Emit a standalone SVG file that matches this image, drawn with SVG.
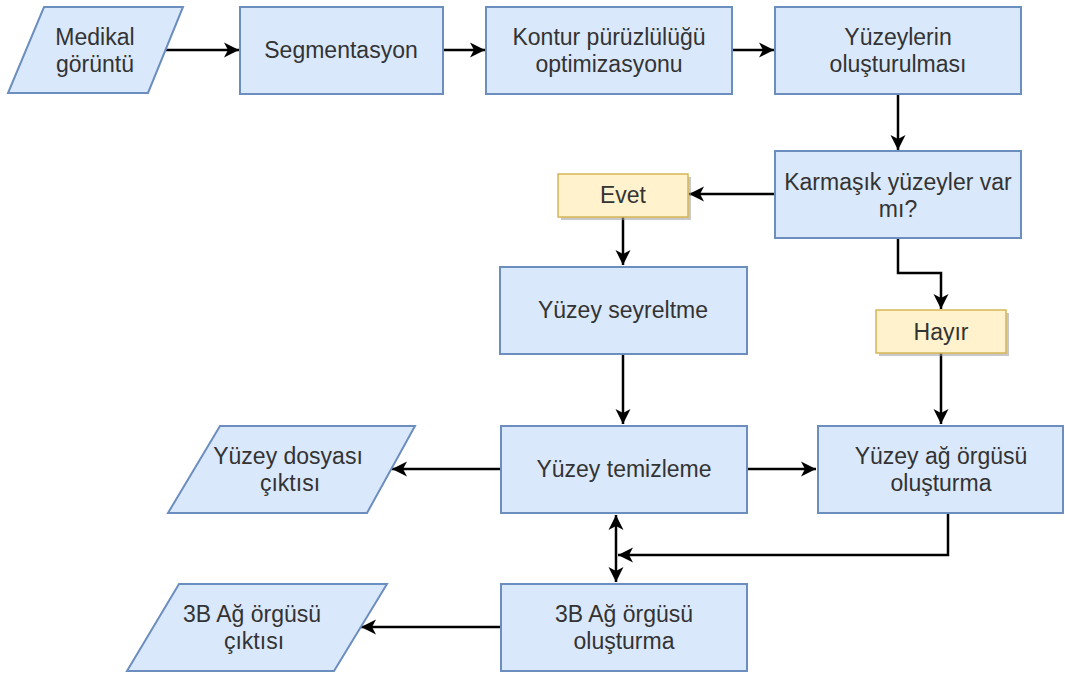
<svg xmlns="http://www.w3.org/2000/svg" width="1065" height="673" viewBox="0 0 1065 673">
<defs>
<style>
.b{fill:#dae8fc;stroke:#6c8ebf;stroke-width:2}
.y{fill:#fff2cc;stroke:#d6b656;stroke-width:1.5}
.sh{fill:#9a9a9a;opacity:0.55}
.t{font-family:"Liberation Sans",Arial,sans-serif;font-size:23px;fill:#333333;text-anchor:middle}
.c{fill:none;stroke:#000;stroke-width:2.5}
</style>
<marker id="a" markerUnits="userSpaceOnUse" markerWidth="18" markerHeight="18" viewBox="0 0 18 18" refX="16" refY="9" orient="auto-start-reverse">
<path d="M1,1.5 L16,9 L1,16.5 L5,9 Z" fill="#000"/>
</marker>
</defs>
<rect width="1065" height="673" fill="#fff"/>
<g id="connectors">
<path class="c" d="M165,50 H239" marker-end="url(#a)"/>
<path class="c" d="M443,50 H485" marker-end="url(#a)"/>
<path class="c" d="M732,50 H774" marker-end="url(#a)"/>
<path class="c" d="M898,94 V150" marker-end="url(#a)"/>
<path class="c" d="M775,194 H689" marker-end="url(#a)"/>
<path class="c" d="M623,217 V265" marker-end="url(#a)"/>
<path class="c" d="M898,238 V273 H941 V309" marker-end="url(#a)"/>
<path class="c" d="M623,354 V424" marker-end="url(#a)"/>
<path class="c" d="M941,353 V424" marker-end="url(#a)"/>
<path class="c" d="M747,469 H816" marker-end="url(#a)"/>
<path class="c" d="M501,469 H392" marker-end="url(#a)"/>
<path class="c" d="M616,515 V582" marker-start="url(#a)" marker-end="url(#a)"/>
<path class="c" d="M948,513 V555 H618" marker-end="url(#a)"/>
<path class="c" d="M501,627 H361" marker-end="url(#a)"/>
</g>
<g id="medikal">
<polygon class="b" points="44,7 183,7 148,93 8,93"/>
<text class="t" x="95" y="45">Medikal</text>
<text class="t" x="95" y="72">görüntü</text>
</g>
<g id="segmentasyon">
<rect class="b" x="240" y="7" width="203" height="87"/>
<text class="t" x="341" y="58">Segmentasyon</text>
</g>
<g id="kontur">
<rect class="b" x="486" y="7" width="246" height="87"/>
<text class="t" x="609" y="45">Kontur pürüzlülüğü</text>
<text class="t" x="609" y="72">optimizasyonu</text>
</g>
<g id="yuzeylerin">
<rect class="b" x="775" y="7" width="246" height="87"/>
<text class="t" x="898" y="45">Yüzeylerin</text>
<text class="t" x="898" y="72">oluşturulması</text>
</g>
<g id="karmasik">
<rect class="b" x="775" y="151" width="246" height="87"/>
<text class="t" x="898" y="190">Karmaşık yüzeyler var</text>
<text class="t" x="898" y="217">mı?</text>
</g>
<g id="evet">
<rect class="sh" x="561" y="177" width="130" height="43"/>
<rect class="y" x="558" y="174" width="130" height="43"/>
<text class="t" x="623" y="203">Evet</text>
</g>
<g id="seyreltme">
<rect class="b" x="500" y="267" width="247" height="87"/>
<text class="t" x="623" y="318">Yüzey seyreltme</text>
</g>
<g id="hayir">
<rect class="sh" x="879" y="313" width="130" height="43"/>
<rect class="y" x="876" y="310" width="130" height="43"/>
<text class="t" x="941" y="340">Hayır</text>
</g>
<g id="temizleme">
<rect class="b" x="501" y="426" width="246" height="87"/>
<text class="t" x="624" y="477">Yüzey temizleme</text>
</g>
<g id="agorgusu">
<rect class="b" x="818" y="426" width="245" height="87"/>
<text class="t" x="941" y="464">Yüzey ağ örgüsü</text>
<text class="t" x="941" y="491">oluşturma</text>
</g>
<g id="dosya">
<polygon class="b" points="220,426 415,426 367,513 168,513"/>
<text class="t" x="288" y="464">Yüzey dosyası</text>
<text class="t" x="290" y="491">çıktısı</text>
</g>
<g id="ag3b">
<rect class="b" x="501" y="584" width="246" height="87"/>
<text class="t" x="624" y="622">3B Ağ örgüsü</text>
<text class="t" x="624" y="649">oluşturma</text>
</g>
<g id="cikti3b">
<polygon class="b" points="179,584 387,584 334,671 127,671"/>
<text class="t" x="252" y="622">3B Ağ örgüsü</text>
<text class="t" x="254" y="649">çıktısı</text>
</g>
</svg>
